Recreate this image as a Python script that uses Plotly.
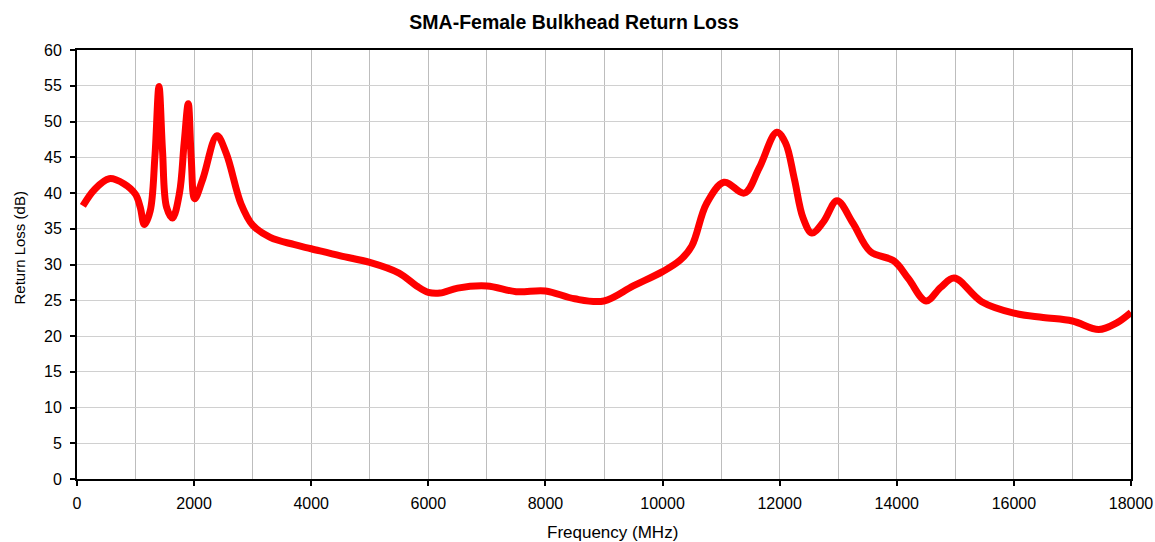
import plotly.graph_objects as go

freq_mhz = [100, 300, 550, 800, 1000, 1080, 1150, 1250, 1330, 1400, 1460, 1530, 1630,
            1750, 1830, 1900, 1950, 2010, 2150, 2390, 2550, 2800, 3000, 3300, 3700, 4000,
            4500, 5000, 5500, 5800, 6000, 6200, 6500, 7000, 7500, 8000, 8500, 9000, 9500,
            10000, 10300, 10500, 10750, 11050, 11400, 11650, 11950, 12100, 12250, 12400, 12550,
            12750, 12980, 13250, 13550, 13950, 14200, 14500, 14750, 14980, 15450, 16000,
            16500, 17000, 17450, 17750, 18000]
return_loss_db = [38.2, 40.5, 42.0, 41.3, 39.8, 38.0, 35.6, 37.5, 45.0, 54.9, 46.0, 38.0, 36.5,
                  40.0, 47.0, 52.5, 45.0, 39.2, 42.0, 48.0, 45.5, 38.5, 35.5, 33.8, 32.8, 32.2,
                  31.2, 30.3, 28.8, 27.0, 26.1, 26.0, 26.7, 27.0, 26.2, 26.3, 25.2, 24.9, 27.0,
                  29.0, 30.6, 32.6, 38.5, 41.5, 40.0, 43.5, 48.5, 47.0, 42.0, 36.5, 34.4,
                  36.0, 38.9, 35.8, 31.8, 30.5, 28.0, 24.9, 26.8, 28.1, 24.8, 23.2,
                  22.6, 22.1, 20.9, 21.8, 23.3]

x_ticks = [0, 2000, 4000, 6000, 8000, 10000, 12000, 14000, 16000, 18000]
y_ticks = [0, 5, 10, 15, 20, 25, 30, 35, 40, 45, 50, 55, 60]

FONT = "Liberation Sans, Arial, sans-serif"

fig = go.Figure()
fig.add_trace(go.Scatter(
    x=freq_mhz, y=return_loss_db, mode="lines",
    line=dict(color="#ff0000", width=7, shape="spline", smoothing=1.0),
    showlegend=False, hoverinfo="x+y",
))

fig.update_layout(
    width=1155, height=542,
    margin=dict(l=77, r=24, t=50, b=63),
    paper_bgcolor="white", plot_bgcolor="white",
    font=dict(family=FONT, color="black", size=16),
    title=dict(text="<b>SMA-Female Bulkhead Return Loss</b>", x=0.497, xanchor="center",
               y=0.959, yanchor="middle", font=dict(size=19.5, family=FONT, color="black")),
    annotations=[
        dict(text="Frequency (MHz)", xref="paper", yref="paper", x=0.5085, y=0,
             yshift=-53, xanchor="center", yanchor="middle", showarrow=False,
             font=dict(size=17, family=FONT, color="black")),
        dict(text="Return Loss (dB)", xref="paper", yref="paper", x=0, y=0.5,
             xshift=-58, yshift=16, xanchor="center", yanchor="middle", textangle=-90,
             showarrow=False, font=dict(size=15, family=FONT, color="black")),
    ],
)
fig.update_xaxes(
    range=[0, 18000], tickvals=x_ticks, ticktext=[str(v) for v in x_ticks],
    ticks="outside", ticklen=5, tickwidth=2, tickcolor="black", ticklabelstandoff=4,
    showline=True, linecolor="black", linewidth=2, mirror=True,
    showgrid=True, gridcolor="#bdbdbd", gridwidth=1,
    minor=dict(dtick=1000, tick0=0, showgrid=True, gridcolor="#bdbdbd", gridwidth=1, ticks=""),
    tickfont=dict(size=16, family=FONT), automargin=False,
    zeroline=False,
)
fig.update_yaxes(
    range=[0, 60], tickvals=y_ticks, ticktext=[str(v) for v in y_ticks],
    ticks="outside", ticklen=5, tickwidth=2, tickcolor="black", ticklabelstandoff=5,
    showline=True, linecolor="black", linewidth=2, mirror=True,
    showgrid=True, gridcolor="#d0d0d0", gridwidth=1,
    tickfont=dict(size=16, family=FONT), automargin=False,
    zeroline=False,
)

fig.write_html("out.html", config={"displayModeBar": False},
               post_script="document.body.style.margin='0px';document.body.style.overflow='hidden';")
